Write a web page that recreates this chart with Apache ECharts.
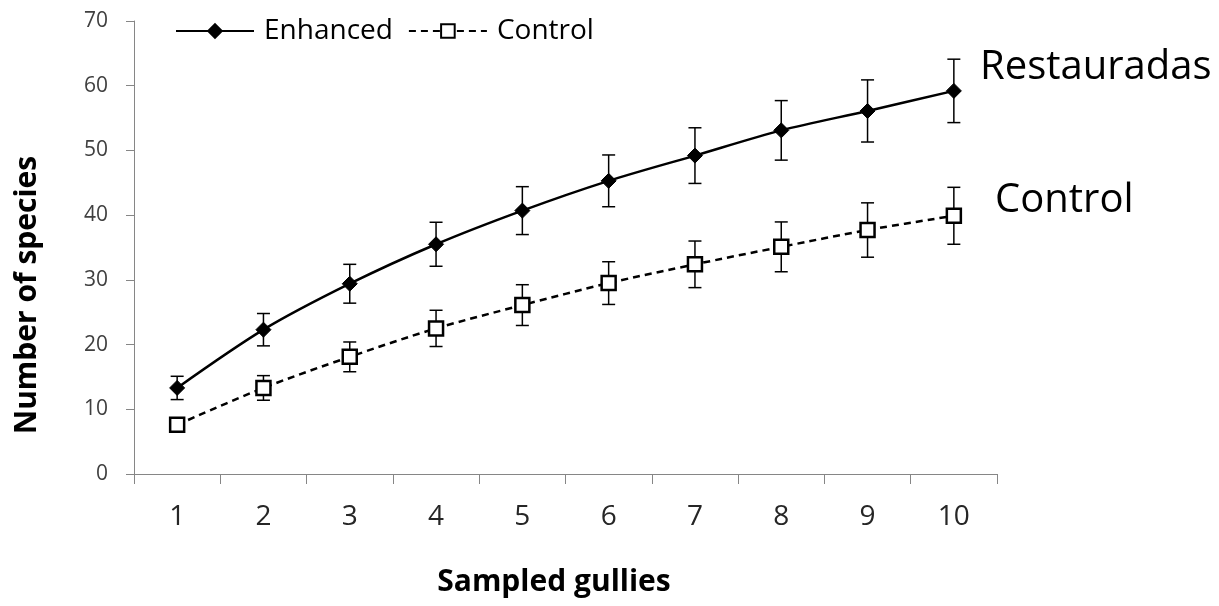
<!DOCTYPE html>
<html>
<head>
<meta charset="utf-8">
<script src="https://cdn.jsdelivr.net/npm/echarts@6/dist/echarts.min.js"></script>
<style>
    html, body { margin: 0; padding: 0; background: #fff; }
    #chart { width: 1219px; height: 606px; }
</style>
</head>
<body>
<div id="chart"></div>
<script>
// 数据
var categories = ['1', '2', '3', '4', '5', '6', '7', '8', '9', '10'];
var enhanced = [13.3, 22.3, 29.4, 35.5, 40.7, 45.3, 49.2, 53.1, 56.1, 59.2];
var enhancedErr = [1.8, 2.5, 3.0, 3.4, 3.7, 4.0, 4.3, 4.6, 4.8, 4.9];
var control = [7.6, 13.3, 18.1, 22.5, 26.1, 29.5, 32.4, 35.1, 37.7, 39.9];
var controlErr = [1.0, 1.9, 2.3, 2.8, 3.15, 3.3, 3.6, 3.85, 4.2, 4.4];
var yTicks = { min: 0, max: 70, interval: 10 };

var font = '"Open Sans", "Liberation Sans", sans-serif';

// 误差线数据 [index, low, high]
function errData(values, errs) {
    return values.map(function (v, i) {
        return [i, v - errs[i], v + errs[i]];
    });
}

function errorBarItem(params, api) {
    var x = api.value(0);
    var lo = api.coord([x, api.value(1)]);
    var hi = api.coord([x, api.value(2)]);
    var w = 6.5;
    var st = { stroke: '#000', lineWidth: 1.5 };
    return {
        type: 'group',
        children: [
            { type: 'line', shape: { x1: hi[0], y1: hi[1], x2: lo[0], y2: lo[1] }, style: st },
            { type: 'line', shape: { x1: hi[0] - w, y1: hi[1], x2: hi[0] + w, y2: hi[1] }, style: st },
            { type: 'line', shape: { x1: lo[0] - w, y1: lo[1], x2: lo[0] + w, y2: lo[1] }, style: st }
        ]
    };
}

var myChart = echarts.init(document.getElementById('chart'));
var option = {
    animation: false,
    backgroundColor: '#fff',
    textStyle: { fontFamily: font },
    grid: {
        left: 134,
        right: 222,
        top: 21,
        bottom: 132
    },
    legend: {
        data: ['Enhanced', 'Control'],
        left: 175,
        top: 17,
        padding: 0,
        itemWidth: 78,
        itemHeight: 17,
        itemGap: 15,
        textStyle: {
            fontFamily: font,
            fontSize: 28,
            color: '#000',
            padding: [0, 0, 0, 5]
        }
    },
    xAxis: {
        type: 'category',
        data: categories,
        boundaryGap: true,
        axisLine: { lineStyle: { color: '#868686', width: 1 } },
        axisTick: { show: true, interval: 0, length: 10, lineStyle: { color: '#868686' } },
        axisLabel: {
            interval: 0,
            margin: 29,
            fontFamily: font,
            fontSize: 28,
            color: '#262626'
        },
        splitLine: { show: false }
    },
    yAxis: {
        type: 'value',
        min: yTicks.min,
        max: yTicks.max,
        interval: yTicks.interval,
        axisLine: { show: true, lineStyle: { color: '#868686', width: 1 } },
        axisTick: { show: true, length: 8, lineStyle: { color: '#868686' } },
        axisLabel: {
            margin: 26,
            fontFamily: font,
            fontSize: 21,
            color: '#404040'
        },
        splitLine: { show: false }
    },
    graphic: [
        {
            type: 'text',
            x: 27,
            y: 295,
            rotation: Math.PI / 2,
            style: {
                text: 'Number of species',
                font: 'bold 30px ' + font,
                fill: '#000',
                align: 'center',
                verticalAlign: 'middle'
            }
        },
        {
            type: 'text',
            x: 554,
            y: 582,
            style: {
                text: 'Sampled gullies',
                font: 'bold 30px ' + font,
                fill: '#000',
                align: 'center',
                verticalAlign: 'middle'
            }
        },
        {
            type: 'text',
            x: 980,
            y: 68,
            style: {
                text: 'Restauradas',
                font: '40px ' + font,
                fill: '#000',
                align: 'left',
                verticalAlign: 'middle'
            }
        },
        {
            type: 'text',
            x: 995,
            y: 201,
            style: {
                text: 'Control',
                font: '40px ' + font,
                fill: '#000',
                align: 'left',
                verticalAlign: 'middle'
            }
        }
    ],
    series: [
        {
            name: 'EnhancedErr',
            type: 'custom',
            renderItem: errorBarItem,
            encode: { x: 0, y: [1, 2] },
            data: errData(enhanced, enhancedErr),
            z: 1,
            silent: true
        },
        {
            name: 'ControlErr',
            type: 'custom',
            renderItem: errorBarItem,
            encode: { x: 0, y: [1, 2] },
            data: errData(control, controlErr),
            z: 1,
            silent: true
        },
        {
            name: 'Enhanced',
            type: 'line',
            data: enhanced,
            smooth: 0.3,
            symbol: 'diamond',
            symbolSize: 15,
            z: 3,
            lineStyle: { color: '#000', width: 2.5 },
            itemStyle: { color: '#000', borderColor: '#000', borderWidth: 1 }
        },
        {
            name: 'Control',
            type: 'line',
            data: control,
            smooth: 0.3,
            symbol: 'rect',
            symbolSize: 14,
            z: 3,
            lineStyle: { color: '#000', width: 2.5, type: [7, 5] },
            itemStyle: { color: '#fff', borderColor: '#000', borderWidth: 2.5 }
        }
    ]
};
myChart.setOption(option);
</script>
</body>
</html>
